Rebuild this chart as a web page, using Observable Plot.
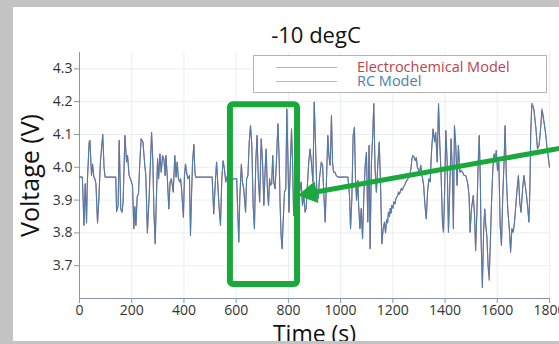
<!DOCTYPE html>
<html>
<head>
<meta charset="utf-8">
<script src="https://cdn.jsdelivr.net/npm/d3@7"></script>
<script src="https://cdn.jsdelivr.net/npm/@observablehq/plot@0.6"></script>
<style>
html, body { margin: 0; padding: 0; }
body { width: 559px; height: 344px; overflow: hidden; background: #c3c3c3; position: relative; font-family: "Open Sans", sans-serif; }
#panel { position: absolute; left: 13px; top: 7px; width: 600px; height: 334px; background: #fff; overflow: hidden; }
#chart { position: absolute; left: 0; top: 0; }
#title { position: absolute; left: 203px; width: 200px; top: 16px; text-align: center; font-size: 22px; line-height: 22px; color: #111; }
#legend { position: absolute; left: 240px; top: 48px; width: 292px; height: 36px; border: 1px solid #b4b4b4; background: #fff; }
.lg-line { position: absolute; left: 22px; width: 61px; height: 1px; opacity: 0.5; }
.lg-text { position: absolute; left: 103px; font-size: 14.5px; line-height: 14px; height: 14px; white-space: nowrap; }
g[aria-label="x-axis label"] text { font-size: 23px; fill: #111; }
g[aria-label="y-axis label"] text { font-size: 25px; fill: #111; }
</style>
</head>
<body>
<div id="panel">
  <div id="chart"></div>
  <div id="title"></div>
  <div id="legend"></div>
</div>
<script>
// ---- data ----
const seriesNames = ["Electrochemical Model", "RC Model"];
const seriesColors = ["#c0404e", "#4d7dab"];
const xTicks = [0, 200, 400, 600, 800, 1000, 1200, 1400, 1600, 1800];
const yTicks = [3.7, 3.8, 3.9, 4.0, 4.1, 4.2, 4.3];
const titleText = "-10 degC";

// RC model voltage: [time (s), voltage (V)]
const rcPoints = [
[0,3.97],[11,3.97],[17,3.823],[22,3.95],[27,3.83],[30,3.955],[37,4.077],[40,4.082],[46,3.975],[50,4.01],
[55,3.97],[59,3.965],[63,3.95],[69,3.83],[74,3.90],[80,4.016],[89,4.10],[94,4.0],[98,3.97],[139,3.97],
[142,3.865],[148,3.884],[152,4.082],[158,3.873],[163,3.863],[167,3.894],[174,4.097],[180,4.016],[184,4.036],[190,3.975],
[197,3.96],[203,3.945],[208,3.813],[212,3.88],[216,3.823],[221,3.91],[226,3.92],[231,4.016],[236,4.087],[243,4.077],
[250,4.006],[254,3.975],[260,3.80],[267,3.914],[276,4.107],[281,4.016],[285,3.863],[290,3.767],[294,3.894],[299,4.026],
[303,3.965],[308,4.041],[313,3.985],[318,4.036],[323,4.026],[328,3.975],[331,4.036],[336,3.975],[342,3.873],[347,3.955],
[352,3.965],[359,3.924],[365,4.036],[370,3.97],[374,4.016],[379,3.965],[384,3.955],[387,3.965],[391,3.934],[394,3.894],
[398,3.848],[402,3.975],[406,4.01],[410,3.985],[415,3.965],[421,3.975],[425,3.792],[429,3.914],[433,4.016],[438,4.07],
[442,3.985],[445,3.97],[508,3.97],[514,3.858],[521,3.965],[525,4.016],[528,3.975],[534,3.884],[540,3.823],[545,3.965],
[550,4.02],[555,3.995],[560,3.955],[565,3.97],[572,3.99],[580,3.96],[591,3.965],[602,3.965],[610,3.772],[614,3.91],
[620,4.01],[624,3.955],[629,3.934],[636,3.863],[640,3.965],[645,3.975],[650,4.077],[655,4.127],[660,4.067],[665,3.884],
[670,3.813],[675,4.016],[680,4.097],[685,3.965],[690,3.894],[696,4.087],[701,4.016],[706,3.884],[711,3.995],[715,4.056],
[719,3.945],[724,3.884],[728,3.965],[731,3.945],[736,3.95],[740,4.036],[744,3.955],[749,3.934],[754,4.016],[760,4.133],
[765,4.016],[768,3.894],[772,3.792],[776,3.752],[780,3.833],[785,3.924],[790,3.934],[794,4.178],[798,4.036],[802,3.863],
[807,3.995],[812,4.117],[816,4.016],[820,3.853],[828,3.95],[838,3.90],[849,3.955],[854,3.884],[859,3.914],[864,3.863],
[868,3.874],[872,3.934],[878,4.016],[883,4.056],[888,4.016],[894,3.955],[899,4.199],[904,4.067],[909,3.924],[914,3.904],
[919,3.965],[926,4.016],[931,4.006],[936,3.914],[941,3.833],[946,3.965],[951,4.097],[955,4.036],[960,4.006],[965,4.158],
[969,4.016],[973,3.985],[979,3.985],[983,3.975],[990,3.97],[1028,3.97],[1034,3.914],[1038,3.813],[1043,3.904],[1048,4.097],
[1053,4.122],[1057,3.965],[1061,3.90],[1066,3.96],[1069,3.884],[1074,3.813],[1079,3.874],[1084,3.782],[1089,3.914],[1094,4.006],
[1099,4.046],[1104,3.833],[1109,4.067],[1113,3.752],[1118,4.016],[1123,4.097],[1127,4.194],[1132,3.995],[1137,3.924],[1143,4.016],
[1148,4.077],[1153,3.945],[1158,3.767],[1163,3.813],[1168,3.833],[1172,3.80],[1176,3.84],[1180,3.83],[1183,3.863],[1187,3.85],
[1190,3.875],[1193,3.86],[1196,3.884],[1200,3.875],[1204,3.895],[1208,3.888],[1212,3.905],[1215,3.909],[1219,3.915],[1222,3.925],
[1225,3.918],[1228,3.924],[1232,3.935],[1236,3.93],[1241,3.94],[1245,3.945],[1250,3.955],[1254,3.96],[1258,3.965],[1262,3.975],
[1266,3.98],[1270,4.0],[1273,4.026],[1277,4.036],[1282,4.03],[1286,4.02],[1290,4.03],[1294,4.0],[1297,3.995],[1302,3.985],
[1307,4.006],[1312,3.975],[1318,3.945],[1323,3.884],[1328,3.843],[1333,3.925],[1338,3.965],[1343,3.955],[1348,4.046],[1354,4.117],
[1360,4.077],[1364,4.107],[1370,4.016],[1375,4.194],[1380,4.067],[1385,3.975],[1390,3.833],[1394,3.802],[1398,3.914],[1403,4.112],
[1408,4.016],[1413,3.802],[1418,3.934],[1423,4.087],[1428,3.99],[1432,3.813],[1436,4.127],[1441,4.067],[1446,3.945],[1451,4.067],
[1457,3.985],[1462,3.99],[1467,3.985],[1473,3.975],[1479,3.975],[1486,3.955],[1492,3.914],[1496,3.802],[1501,3.873],[1508,3.914],
[1513,3.853],[1517,3.746],[1522,3.863],[1527,4.016],[1531,4.097],[1535,3.965],[1538,3.782],[1543,3.635],[1548,3.813],[1552,3.873],
[1556,3.823],[1560,3.792],[1565,3.70],[1569,3.67],[1573,3.762],[1578,3.894],[1583,3.995],[1588,4.041],[1592,4.016],[1596,4.051],
[1601,3.99],[1606,4.016],[1611,3.823],[1616,3.762],[1621,3.914],[1626,4.016],[1630,4.127],[1635,3.965],[1640,3.873],[1646,3.813],
[1651,3.746],[1656,3.813],[1661,3.802],[1666,3.833],[1671,3.884],[1676,3.934],[1681,3.975],[1686,3.894],[1691,3.863],[1697,3.934],
[1702,3.975],[1707,3.945],[1712,3.914],[1717,3.873],[1721,3.833],[1725,3.934],[1728,4.097],[1732,4.189],[1737,4.184],[1741,4.168],
[1748,4.117],[1754,4.056],[1760,4.067],[1765,4.107],[1771,4.178],[1776,4.158],[1781,4.127],[1786,4.097],[1791,4.056],[1796,4.026],
[1800,4.0]
];

// Electrochemical model voltage: [time (s), voltage (V)] (visible only where it departs from the RC curve)
const ecPoints = [
[0,3.97],[11,3.97],[17,3.823],[22,3.95],[27,3.83],[30,3.955],[37,4.077],[40,4.082],[46,3.975],[50,4.01],
[55,3.97],[59,3.965],[63,3.95],[69,3.83],[74,3.90],[80,4.016],[89,4.10],[94,4.0],[98,3.97],[139,3.97],
[142,3.865],[148,3.884],[152,4.082],[158,3.873],[163,3.863],[167,3.894],[174,4.097],[180,4.016],[184,4.036],[190,3.975],
[197,3.96],[203,3.945],[208,3.813],[212,3.88],[216,3.823],[221,3.91],[226,3.92],[231,4.016],[236,4.087],[243,4.077],
[250,4.006],[254,3.975],[260,3.80],[267,3.914],[276,4.107],[281,4.016],[285,3.863],[290,3.767],[294,3.894],[299,4.026],
[303,3.965],[308,4.041],[313,3.985],[318,4.036],[323,4.026],[328,3.975],[331,4.036],[336,3.975],[342,3.873],[347,3.955],
[352,3.965],[359,3.924],[365,4.036],[370,3.97],[374,4.016],[379,3.965],[384,3.955],[387,3.965],[391,3.934],[394,3.894],
[398,3.848],[402,3.975],[406,4.01],[410,3.985],[415,3.965],[421,3.975],[425,3.792],[429,3.914],[433,4.016],[438,4.07],
[442,3.985],[445,3.97],[508,3.97],[514,3.858],[521,3.965],[525,4.016],[528,3.975],[534,3.884],[540,3.823],[545,3.965],
[550,4.02],[555,3.995],[560,3.955],[565,3.97],[572,3.99],[580,3.96],[591,3.965],[602,3.965],[610,3.772],[614,3.91],
[620,4.01],[624,3.955],[629,3.934],[636,3.863],[640,3.965],[645,3.975],[650,4.077],[655,4.127],[660,4.067],[665,3.884],
[670,3.813],[675,4.016],[680,4.097],[685,3.965],[690,3.894],[696,4.087],[701,4.016],[706,3.884],[711,3.995],[715,4.056],
[719,3.945],[724,3.884],[728,3.965],[731,3.945],[736,3.95],[740,4.036],[744,3.955],[749,3.934],[754,4.016],[760,4.133],
[765,4.016],[768,3.894],[772,3.792],[776,3.752],[780,3.833],[785,3.924],[790,3.934],[794,4.178],[798,4.036],[802,3.863],
[807,3.995],[812,4.117],[816,4.016],[820,3.853],[828,3.95],[838,3.90],[849,3.955],[854,3.884],[859,3.914],[864,3.863],
[868,3.874],[872,3.934],[878,4.016],[883,4.056],[888,4.016],[894,3.955],[899,4.199],[904,4.067],[909,3.924],[914,3.904],
[919,3.965],[926,4.016],[931,4.006],[936,3.914],[941,3.833],[946,3.965],[951,4.097],[955,4.036],[960,4.006],[965,4.158],
[969,4.016],[973,3.985],[979,3.985],[983,3.975],[990,3.97],[1028,3.97],[1034,3.914],[1038,3.813],[1043,3.904],[1048,4.097],
[1053,4.122],[1057,3.965],[1061,3.90],[1066,3.96],[1069,3.884],[1074,3.813],[1079,3.874],[1084,3.782],[1089,3.914],[1094,4.006],
[1099,4.046],[1104,3.833],[1109,4.067],[1113,3.752],[1118,4.016],[1123,4.097],[1127,4.194],[1132,3.995],[1137,3.924],[1143,4.016],
[1148,4.077],[1153,3.945],[1158,3.767],[1163,3.813],[1168,3.833],[1172,3.80],[1176,3.84],[1180,3.83],[1183,3.863],[1187,3.85],
[1190,3.875],[1193,3.86],[1196,3.884],[1200,3.875],[1204,3.895],[1208,3.888],[1212,3.905],[1215,3.909],[1219,3.915],[1222,3.925],
[1225,3.918],[1228,3.924],[1232,3.935],[1236,3.93],[1241,3.94],[1245,3.945],[1250,3.955],[1254,3.96],[1258,3.965],[1262,3.975],
[1266,3.98],[1270,4.0],[1273,4.026],[1277,4.036],[1282,4.03],[1286,4.02],[1290,4.03],[1294,4.0],[1297,3.995],[1302,3.985],
[1307,4.006],[1312,3.975],[1318,3.945],[1323,3.884],[1328,3.843],[1333,3.925],[1338,3.965],[1343,3.955],[1348,4.046],[1354,4.117],
[1360,4.077],[1364,4.107],[1370,4.016],[1375,4.194],[1380,4.067],[1385,3.975],[1390,3.833],[1394,3.802],[1398,3.914],[1403,4.112],
[1408,4.016],[1413,3.802],[1418,3.934],[1423,4.087],[1428,3.99],[1432,3.813],[1436,4.127],[1441,4.067],[1446,3.945],[1451,4.067],
[1457,3.985],[1462,3.99],[1467,3.985],[1473,3.975],[1479,3.975],[1486,3.955],[1492,3.914],[1496,3.802],[1501,3.873],[1508,3.914],
[1513,3.853],[1517,3.746],[1522,3.863],[1527,4.016],[1531,4.097],[1535,3.965],[1538,3.782],[1543,3.632],[1548,3.813],[1552,3.873],
[1556,3.823],[1560,3.790],[1565,3.69],[1569,3.655],[1573,3.755],[1578,3.894],[1583,3.995],[1588,4.041],[1592,4.016],[1596,4.051],
[1601,3.99],[1606,4.016],[1611,3.823],[1616,3.762],[1621,3.914],[1626,4.016],[1630,4.127],[1635,3.965],[1640,3.873],[1646,3.813],
[1651,3.74],[1656,3.813],[1661,3.802],[1666,3.833],[1671,3.884],[1676,3.934],[1681,3.975],[1686,3.894],[1691,3.863],[1697,3.934],
[1702,3.975],[1707,3.945],[1712,3.914],[1717,3.873],[1721,3.833],[1725,3.934],[1728,4.10],[1732,4.196],[1737,4.19],[1741,4.175],
[1748,4.12],[1754,4.056],[1760,4.067],[1765,4.11],[1771,4.172],[1776,4.148],[1781,4.127],[1786,4.097],[1791,4.056],[1796,4.026],
[1800,4.0]
];

// annotation (in data units): highlight box, pointer shaft and pointer head
const highlightBox = [{t1: 578, t2: 835, v1: 3.643, v2: 4.191}];
const pointerShaft = [{t1: 1918, v1: 4.069, t2: 900, v2: 3.924}];
const pointerHead = [{t: 884, v: 3.921}];

// ---- build ----
const toRows = (pts, name) => pts.map(([t, v]) => ({t, v, model: name}));
const ecRows = toRows(ecPoints, seriesNames[0]);
const rcRows = toRows(rcPoints, seriesNames[1]);

const axisColor = "#8796ab";
const gridColor = "#eaedf1";
const green = "#19a83b";

const chart = Plot.plot({
  width: 600,
  height: 334,
  marginLeft: 66,
  marginRight: 64,
  marginTop: 45,
  marginBottom: 43,
  style: {fontFamily: "'Open Sans', sans-serif", fontSize: "14px", color: "#333", background: "transparent", maxWidth: "none", overflow: "hidden"},
  x: {domain: [0, 1800]},
  y: {domain: [3.6, 4.35]},
  marks: [
    Plot.gridX(xTicks, {stroke: gridColor, strokeOpacity: 1}),
    Plot.gridY(yTicks, {stroke: gridColor, strokeOpacity: 1}),
    Plot.ruleX([0], {stroke: axisColor}),
    Plot.ruleY([3.6], {stroke: axisColor}),
    Plot.axisX(xTicks, {tickSize: 5, tickPadding: 2, stroke: axisColor, fill: "#333", fontSize: 14,
      tickFormat: d3.format("d"),
      label: "Time (s)", labelAnchor: "center", labelOffset: 43, labelArrow: "none"}),
    Plot.axisY(yTicks, {tickSize: 5, tickPadding: 2, stroke: axisColor, fill: "#333", fontSize: 14,
      tickFormat: d3.format(".1f"),
      label: "Voltage (V)", labelAnchor: "center", labelOffset: 58, labelArrow: "none"}),
    Plot.line(ecRows, {x: "t", y: "v", stroke: seriesColors[0], strokeWidth: 0.8}),
    Plot.line(rcRows, {x: "t", y: "v", stroke: seriesColors[1], strokeWidth: 1.1}),
    Plot.rect(highlightBox, {x1: "t1", x2: "t2", y1: "v1", y2: "v2", fill: "none", stroke: green, strokeWidth: 6, rx: 3}),
    Plot.link(pointerShaft, {x1: "t1", y1: "v1", x2: "t2", y2: "v2", stroke: green, strokeWidth: 5}),
    Plot.dot(pointerHead, {x: "t", y: "v", symbol: "triangle", r: 7.5, fill: green, stroke: green, strokeWidth: 1, rotate: -100})
  ]
});
document.getElementById("chart").appendChild(chart);

// legend
const legend = document.getElementById("legend");
seriesNames.forEach((name, i) => {
  const y = 11 + i * 14;
  const line = document.createElement("div");
  line.className = "lg-line";
  line.style.top = y + "px";
  line.style.background = seriesColors[i];
  legend.appendChild(line);
  const txt = document.createElement("div");
  txt.className = "lg-text";
  txt.style.top = (y - 7) + "px";
  txt.style.color = seriesColors[i];
  txt.textContent = name;
  legend.appendChild(txt);
});
document.getElementById("title").textContent = titleText;
</script>
</body>
</html>
